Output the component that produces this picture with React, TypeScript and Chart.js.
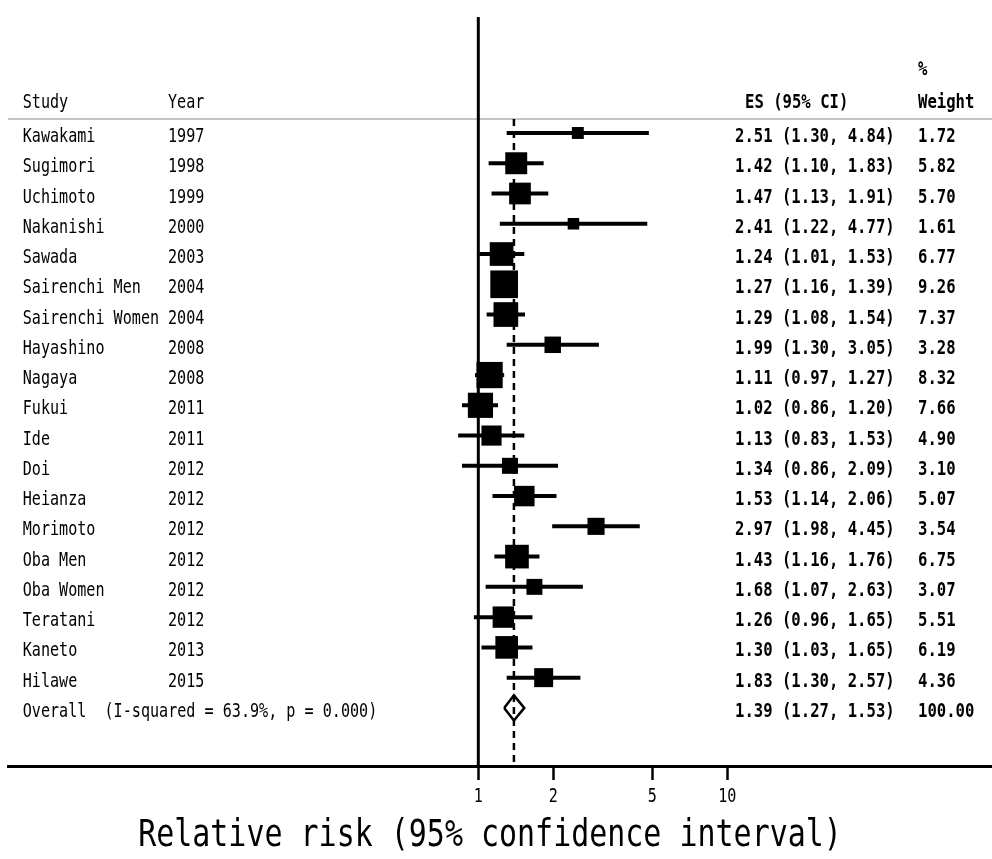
import React, { useEffect, useRef } from "react";
import { Chart, registerables } from "chart.js";

Chart.register(...registerables);

// ---------- data ----------
const studies = [
  "Kawakami", "Sugimori", "Uchimoto", "Nakanishi", "Sawada", "Sairenchi Men",
  "Sairenchi Women", "Hayashino", "Nagaya", "Fukui", "Ide", "Doi", "Heianza",
  "Morimoto", "Oba Men", "Oba Women", "Teratani", "Kaneto", "Hilawe",
];
const years = [
  "1997", "1998", "1999", "2000", "2003", "2004", "2004", "2008", "2008", "2011",
  "2011", "2012", "2012", "2012", "2012", "2012", "2012", "2013", "2015",
];
const es = [2.51, 1.42, 1.47, 2.41, 1.24, 1.27, 1.29, 1.99, 1.11, 1.02, 1.13, 1.34, 1.53, 2.97, 1.43, 1.68, 1.26, 1.30, 1.83];
const ciLow = [1.30, 1.10, 1.13, 1.22, 1.01, 1.16, 1.08, 1.30, 0.97, 0.86, 0.83, 0.86, 1.14, 1.98, 1.16, 1.07, 0.96, 1.03, 1.30];
const ciHigh = [4.84, 1.83, 1.91, 4.77, 1.53, 1.39, 1.54, 3.05, 1.27, 1.20, 1.53, 2.09, 2.06, 4.45, 1.76, 2.63, 1.65, 1.65, 2.57];
const weights = [1.72, 5.82, 5.70, 1.61, 6.77, 9.26, 7.37, 3.28, 8.32, 7.66, 4.90, 3.10, 5.07, 3.54, 6.75, 3.07, 5.51, 6.19, 4.36];

const overallLabel = "Overall  (I-squared = 63.9%, p = 0.000)";
const overallES = 1.39;
const overallLow = 1.27;
const overallHigh = 1.53;
const overallWeight = 100.0;

const xTicks = [1, 2, 5, 10];
const xTitle = "Relative risk (95% confidence interval)";
const headers = { study: "Study", year: "Year", es: "ES (95% CI)", pct: "%", weight: "Weight" };

// ---------- layout (rows on a hidden linear y scale) ----------
const Y_MIN = -3.833;
const Y_MAX = 20.92;
const ROW_HEADER = -1.12;
const ROW_PCT = -2.21;
const ROW_SEP = -0.46;
const overallRow = studies.length;

const X_MIN = 0.01292;
const X_MAX = 115.6;

const COL_STUDY = 22.7;
const COL_YEAR = 168;
const COL_ES = 735;
const COL_ES_HEADER = 745;
const COL_WEIGHT = 918;

const FONT = '"DejaVu Sans Mono", monospace';
const SX = 0.755;
const SX_BOLD = 0.78;

function drawText(
  ctx: CanvasRenderingContext2D, text: string, x: number, y: number,
  size: number, sx: number, bold = false, align: CanvasTextAlign = "left"
) {
  ctx.save();
  ctx.translate(x, y);
  ctx.scale(sx, 1);
  ctx.font = `${bold ? "bold " : ""}${size}px ${FONT}`;
  ctx.fillStyle = "#000";
  ctx.textAlign = align;
  ctx.textBaseline = "alphabetic";
  ctx.fillText(text, 0, 0);
  ctx.restore();
}

const fmt = (v: number) => v.toFixed(2);

const textPlugin = {
  id: "forestText",
  beforeDatasetsDraw(chart: any) {
    const { ctx, chartArea, scales } = chart;
    const y = scales.y.getPixelForValue(ROW_SEP);
    ctx.save();
    ctx.strokeStyle = "#c4c4c4";
    ctx.lineWidth = 2;
    ctx.beginPath();
    ctx.moveTo(chartArea.left, y);
    ctx.lineTo(chartArea.right, y);
    ctx.stroke();
    ctx.restore();
  },
  afterDraw(chart: any) {
    const { ctx, scales } = chart;
    const ys = scales.y;
    const xs = scales.x;
    const base = (row: number) => ys.getPixelForValue(row) + 9;

    // headers
    drawText(ctx, headers.study, COL_STUDY, base(ROW_HEADER), 20, SX);
    drawText(ctx, headers.year, COL_YEAR, base(ROW_HEADER), 20, SX);
    drawText(ctx, headers.es, COL_ES_HEADER, base(ROW_HEADER), 20, SX_BOLD, true);
    drawText(ctx, headers.pct, COL_WEIGHT, base(ROW_PCT), 20, SX_BOLD, true);
    drawText(ctx, headers.weight, COL_WEIGHT, base(ROW_HEADER), 20, SX_BOLD, true);

    studies.forEach((s, i) => {
      drawText(ctx, s, COL_STUDY, base(i), 20, SX);
      drawText(ctx, years[i], COL_YEAR, base(i), 20, SX);
      drawText(ctx, `${fmt(es[i])} (${fmt(ciLow[i])}, ${fmt(ciHigh[i])})`, COL_ES, base(i), 20, SX_BOLD, true);
      drawText(ctx, fmt(weights[i]), COL_WEIGHT, base(i), 20, SX_BOLD, true);
    });
    drawText(ctx, overallLabel, COL_STUDY, base(overallRow), 20, SX);
    drawText(ctx, `${fmt(overallES)} (${fmt(overallLow)}, ${fmt(overallHigh)})`, COL_ES, base(overallRow), 20, SX_BOLD, true);
    drawText(ctx, fmt(overallWeight), COL_WEIGHT, base(overallRow), 20, SX_BOLD, true);

    // tick labels
    xTicks.forEach((v) => {
      drawText(ctx, String(v), xs.getPixelForValue(v), 802, 20, SX, false, "center");
    });
    // axis title
    drawText(ctx, xTitle, 490, 846, 37, 0.81, false, "center");
  },
};

function buildConfig(): any {
  const boxRadius = weights.map((w) => (9.1 * Math.sqrt(w)) / Math.SQRT2);
  const datasets: any[] = [];

  datasets.push({
    label: "studies",
    data: es.map((v, i) => ({ x: v, y: i })),
    showLine: false,
    pointStyle: "rect",
    pointRadius: boxRadius,
    pointHoverRadius: boxRadius,
    pointBackgroundColor: "#000",
    pointBorderWidth: 0,
  });

  es.forEach((_, i) => {
    datasets.push({
      label: `ci-${i}`,
      data: [{ x: ciLow[i], y: i }, { x: ciHigh[i], y: i }],
      showLine: true,
      borderColor: "#000",
      borderWidth: 4,
      pointRadius: 0,
      pointHoverRadius: 0,
      borderCapStyle: "butt",
    });
  });

  const dh = 0.415;
  datasets.push({
    label: "overall",
    data: [
      { x: overallLow, y: overallRow },
      { x: overallES, y: overallRow - dh },
      { x: overallHigh, y: overallRow },
      { x: overallES, y: overallRow + dh },
      { x: overallLow, y: overallRow },
    ],
    showLine: true,
    borderColor: "#000",
    borderWidth: 2.5,
    borderJoinStyle: "miter",
    pointRadius: 0,
    pointHoverRadius: 0,
    fill: false,
  });

  datasets.push({
    label: "overall-line",
    data: [{ x: overallES, y: ROW_SEP }, { x: overallES, y: Y_MAX }],
    showLine: true,
    borderColor: "#000",
    borderWidth: 2.5,
    borderDash: [7, 5],
    pointRadius: 0,
    pointHoverRadius: 0,
  });

  datasets.push({
    label: "null-line",
    data: [{ x: 1, y: Y_MIN }, { x: 1, y: Y_MAX }],
    showLine: true,
    borderColor: "#000",
    borderWidth: 3,
    pointRadius: 0,
    pointHoverRadius: 0,
  });

  return {
    type: "scatter",
    data: { datasets },
    options: {
      responsive: false,
      animation: false,
      events: [],
      layout: { autoPadding: false, padding: { left: 8, right: 0, top: 17, bottom: 79 } },
      plugins: { legend: { display: false }, tooltip: { enabled: false } },
      scales: {
        x: {
          type: "logarithmic",
          position: "bottom",
          min: X_MIN,
          max: X_MAX,
          afterBuildTicks: (axis: any) => {
            axis.ticks = xTicks.map((v) => ({ value: v }));
          },
          ticks: { display: false },
          grid: {
            drawOnChartArea: false,
            drawTicks: true,
            tickLength: 14,
            tickColor: "#000",
            tickWidth: 2.5,
          },
          border: { display: true, color: "#000", width: 3 },
        },
        y: {
          type: "linear",
          display: false,
          min: Y_MIN,
          max: Y_MAX,
          reverse: true,
        },
      },
    },
    plugins: [textPlugin],
  };
}

export default function App() {
  const ref = useRef<HTMLCanvasElement>(null);
  useEffect(() => {
    document.body.style.margin = "0";
    const chart = new Chart(ref.current as HTMLCanvasElement, buildConfig());
    return () => chart.destroy();
  }, []);
  return (
    <div style={{ width: 992, height: 859, background: "#fff" }}>
      <canvas ref={ref} width={992} height={859} style={{ display: "block" }} />
    </div>
  );
}
